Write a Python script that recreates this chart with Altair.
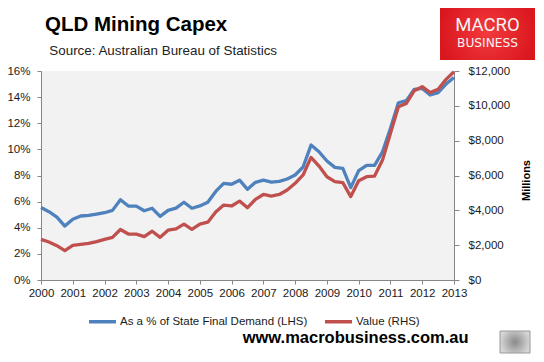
import altair as alt
import pandas as pd

# ---- data ----
years = list(range(2000, 2014))
pct_sfd = [5.55, 5.23, 4.82, 4.13, 4.65, 4.90, 4.95, 5.05, 5.15, 5.33,
           6.15, 5.66, 5.66, 5.30, 5.49, 4.87, 5.33, 5.50, 5.95, 5.49,
           5.67, 5.95, 6.78, 7.40, 7.33, 7.64, 6.94, 7.48, 7.64, 7.50,
           7.55, 7.73, 8.04, 8.65, 10.33, 9.82, 9.11, 8.62, 8.55, 7.07,
           8.37, 8.78, 8.78, 9.82, 11.61, 13.57, 13.73, 14.60, 14.67, 14.16,
           14.34, 15.00, 15.51]
value_m = [2330, 2180, 1970, 1690, 1990, 2050, 2100, 2200, 2330, 2450,
           2900, 2640, 2630, 2490, 2800, 2450, 2860, 2940, 3210, 2910,
           3210, 3320, 3900, 4300, 4250, 4530, 4150, 4630, 4910, 4820,
           4910, 5170, 5550, 6030, 7040, 6540, 5930, 5650, 5590, 4790,
           5700, 5930, 5970, 6890, 8420, 9950, 10140, 10870, 11100, 10760,
           10950, 11520, 11960]
quarters = [2000 + i * 0.25 for i in range(len(pct_sfd))]
left_ticks = [0, 2, 4, 6, 8, 10, 12, 14, 16]
right_ticks = [0, 2000, 4000, 6000, 8000, 10000, 12000]
s1 = "As a % of State Final Demand (LHS)"
s2 = "Value (RHS)"

F = "Liberation Sans"
BLUE = "#4f81bd"
RED = "#c0504d"
AX = "#868686"
TXT = "#1a1a1a"

df1 = pd.DataFrame({"t": quarters, "v": pct_sfd, "series": s1})
df2 = pd.DataFrame({"t": quarters, "v": value_m, "series": s2})

W, H = 413, 209

color = alt.Color(
    "series:N",
    scale=alt.Scale(domain=[s1, s2], range=[BLUE, RED]),
    legend=alt.Legend(
        title=None, orient="none", legendX=46, legendY=235,
        direction="horizontal",
        symbolType="stroke", symbolSize=729,
        symbolStrokeWidth=3.5, labelFont=F, labelFontSize=11.5,
        labelColor=TXT, labelOffset=2, columnPadding=10, padding=0,
        labelLimit=400,
        labelExpr="datum.label == 'Value (RHS)' ? datum.label : datum.label + '\u00a0\u00a0\u00a0\u00a0\u00a0\u00a0'",
    ),
)

xenc = alt.X(
    "t:Q",
    scale=alt.Scale(domain=[2000, 2013], nice=False, zero=False),
    axis=alt.Axis(
        values=years, format="d", title=None, grid=False,
        labelFont=F, labelFontSize=11.5, labelColor=TXT,
        domainColor=AX, tickColor=AX, tickSize=4, labelPadding=3,
        labelFlush=False, labelOverlap=False,
    ),
)

line1 = alt.Chart(df1).mark_line(strokeWidth=3.3, strokeJoin="round").encode(
    x=xenc,
    y=alt.Y(
        "v:Q",
        scale=alt.Scale(domain=[0, 16], nice=False),
        axis=alt.Axis(
            orient="left", values=left_ticks, labelExpr="datum.value + '%'",
            title=None, grid=False, labelFont=F, labelFontSize=11.5,
            labelColor=TXT, domainColor=AX, tickColor=AX, tickSize=4,
            labelPadding=7,
        ),
    ),
    color=color,
)

line2 = alt.Chart(df2).mark_line(strokeWidth=3.3, strokeJoin="round").encode(
    x=xenc,
    y=alt.Y(
        "v:Q",
        scale=alt.Scale(domain=[0, 12000], nice=False),
        axis=alt.Axis(
            orient="right", values=right_ticks, format="$,.0f",
            title="Millions", titleFont=F, titleFontSize=11,
            titleFontWeight="bold", titleColor="#000", titleAngle=270,
            titleX=72, titleY=109, titleAlign="center",
            titleBaseline="middle",
            grid=False, labelFont=F, labelFontSize=11.5, labelColor=TXT,
            domainColor=AX, tickColor=AX, tickSize=5, labelPadding=9,
        ),
    ),
    color=color,
)

one = alt.Data(values=[{"k": 1}])

title = alt.Chart(one).mark_text(
    text="QLD Mining Capex", font=F, fontSize=20.5, fontWeight="bold",
    align="left", baseline="alphabetic", color="#000",
).encode(x=alt.value(4), y=alt.value(-40.3))

subtitle = alt.Chart(one).mark_text(
    text="Source: Australian Bureau of Statistics", font=F, fontSize=13.4,
    align="left", baseline="alphabetic", color="#222",
).encode(x=alt.value(8.3), y=alt.value(-16))

logo = alt.Chart(one).mark_rect(
    fill={"gradient": "radial",
          "stops": [{"offset": 0, "color": "#f33a3d"},
                    {"offset": 1, "color": "#d9181e"}]},
).encode(x=alt.value(399), x2=alt.value(494), y=alt.value(-66), y2=alt.value(-11))

logo_t1 = alt.Chart(one).mark_text(
    text="MACRO", font="Roboto", fontSize=18.5, color="#f4f4f4",
    align="center", baseline="alphabetic",
).encode(x=alt.value(446.5), y=alt.value(-40))

logo_t2 = alt.Chart(one).mark_text(
    text="BUSINESS", font="DejaVu Sans", fontSize=12.2,
    color="#f4f4f4", align="center", baseline="alphabetic",
).encode(x=alt.value(446.5), y=alt.value(-24))

footer = alt.Chart(one).mark_text(
    text="www.macrobusiness.com.au", font=F, fontSize=16.5, fontWeight="bold",
    align="left", baseline="alphabetic", color="#000",
).encode(x=alt.value(201.7), y=alt.value(271.7))

wolf = alt.Chart(one).mark_rect(
    fill={"gradient": "radial",
          "stops": [{"offset": 0, "color": "#8a8a8a"},
                    {"offset": 1, "color": "#d6d6d6"}]},
    stroke="#9a9a9a", strokeWidth=1,
).encode(x=alt.value(459), x2=alt.value(489), y=alt.value(260), y2=alt.value(282))

chart = alt.layer(
    line1, line2, title, subtitle, logo, logo_t1, logo_t2, footer, wolf
).resolve_scale(y="independent").properties(
    width=W, height=H,
    autosize=alt.AutoSizeParams(type="none"),
    padding={"left": 33, "top": 63, "right": 82, "bottom": 74},
    background="#ffffff",
).configure_view(stroke=None, fill="#f2f2f2")

chart.save("out.html", embed_options={"renderer": "svg", "actions": False})
